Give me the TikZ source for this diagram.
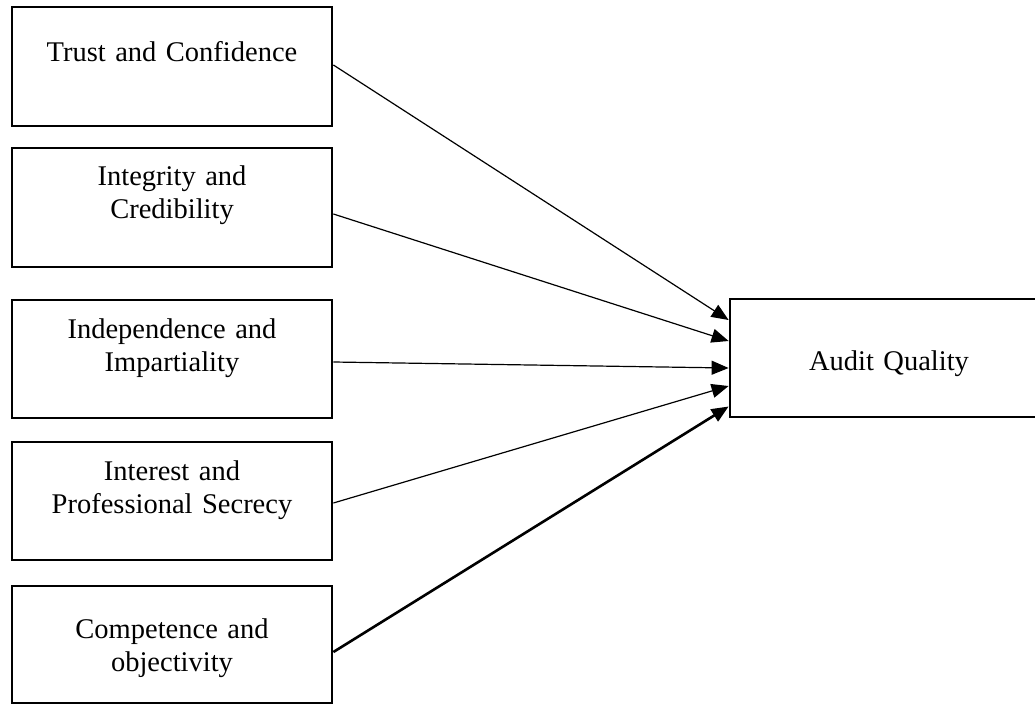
\documentclass[tikz,border=0pt]{standalone}
\usepackage{fontspec}
\setmainfont{Liberation Serif}
\usetikzlibrary{arrows.meta}
\begin{document}
\begin{tikzpicture}[x=1pt,y=-1pt,
  box/.style={draw, line width=2.8pt, rectangle, inner sep=0pt, minimum width=320pt, minimum height=119pt},
  lbl/.style={inner sep=0pt, text width=310pt, align=center, anchor=base, font=\fontsize{28.5}{33.8}\selectfont},
  conn/.style={line width=1.2pt, -{Triangle[length=17pt,width=14pt]}},
  thick conn/.style={line width=2.6pt, -{Triangle[length=17pt,width=14pt]}}]
\useasboundingbox (0,0) rectangle (1035,707);
\node[box] (b1) at (172,66.5) {};
\node[box] (b2) at (172,207.5) {};
\node[box, minimum height=118pt] (b3) at (172,359) {};
\node[box, minimum height=118pt] (b4) at (172,501) {};
\node[box, minimum height=117pt] (b5) at (172,644.5) {};
\node[box, minimum height=118pt] (aq) at (890,358) {};
\node[lbl] (t1) at (172,61) {Trust and Confidence};
\node[lbl] (t2) at (172,185) {Integrity and\\Credibility};
\node[lbl] (t3) at (172,338) {Independence and\\Impartiality};
\node[lbl] (t4) at (172,480) {Interest and\\Professional Secrecy};
\node[lbl] (t5) at (172,638) {Competence and\\objectivity};
\node[lbl] (ta) at (889,370) {Audit Quality};
\draw[conn] ([yshift=1.5pt]b1.east) -- ([yshift=38pt]aq.west);
\draw[conn] ([yshift=-6.5pt]b2.east) -- ([yshift=17pt]aq.west);
\draw[conn] ([yshift=-3pt]b3.east) -- ([yshift=-10pt]aq.west);
\draw[conn] ([yshift=-2pt]b4.east) -- ([yshift=-28pt]aq.west);
\draw[thick conn] ([yshift=-7.5pt]b5.east) -- ([yshift=-48.5pt]aq.west);
\end{tikzpicture}
\end{document}
